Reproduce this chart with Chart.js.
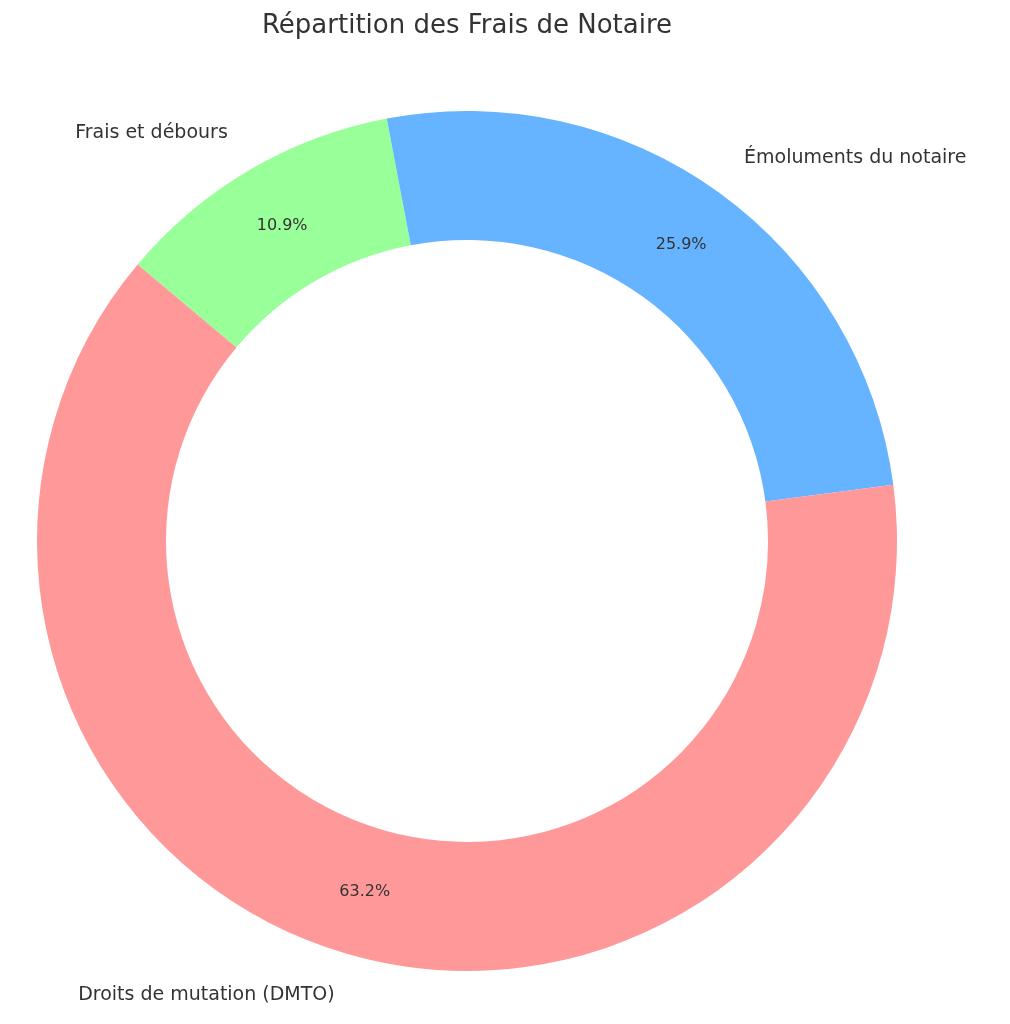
<!DOCTYPE html>
<html><head><meta charset="utf-8">
<script src="https://cdn.jsdelivr.net/npm/chart.js@4"></script>
<style>html,body{margin:0;padding:0;background:#fff}#w{width:1010px;height:1024px}</style>
</head><body><div id="w"><canvas id="c"></canvas></div>
<script>
const categories = ["Frais et débours", "Émoluments du notaire", "Droits de mutation (DMTO)"];
const values = [10.9, 25.9, 63.2];
const colors = ["#99ff99", "#66b3ff", "#ff9999"];
const title = "Répartition des Frais de Notaire";

const labelPlugin = {
  id: 'lbl',
  afterDatasetsDraw(chart) {
    const ctx = chart.ctx;
    const meta = chart.getDatasetMeta(0);
    ctx.save();
    ctx.fillStyle = '#333';
    ctx.textBaseline = 'middle';
    meta.data.forEach((arc, i) => {
      const p = arc.getProps(['x','y','startAngle','endAngle','outerRadius'], true);
      const mid = (p.startAngle + p.endAngle) / 2;
      const R = p.outerRadius;
      const px = p.x + Math.cos(mid) * R * 0.85, py = p.y + Math.sin(mid) * R * 0.85;
      ctx.font = '16px "DejaVu Sans"';
      ctx.textAlign = 'center';
      ctx.fillText(values[i].toFixed(1) + '%', px, py);
      const lx = p.x + Math.cos(mid) * R * 1.1, ly = p.y + Math.sin(mid) * R * 1.1;
      ctx.font = '19px "DejaVu Sans"';
      ctx.textAlign = Math.cos(mid) < 0 ? 'right' : 'left';
      ctx.fillText(categories[i], lx, ly);
    });
    ctx.font = '26px "DejaVu Sans"';
    ctx.textAlign = 'center';
    ctx.fillText(title, 467, 26);
    ctx.restore();
  }
};

new Chart(document.getElementById('c'), {
  type: 'doughnut',
  data: { labels: categories, datasets: [{ data: values, backgroundColor: colors, borderWidth: 0 }] },
  options: {
    responsive: true, maintainAspectRatio: false, animation: false,
    rotation: -50, cutout: '70%',
    layout: { padding: { left: 37, right: 113, top: 111, bottom: 53 } },
    plugins: { legend: { display: false }, tooltip: { enabled: false } }
  },
  plugins: [labelPlugin]
});
</script></body></html>
